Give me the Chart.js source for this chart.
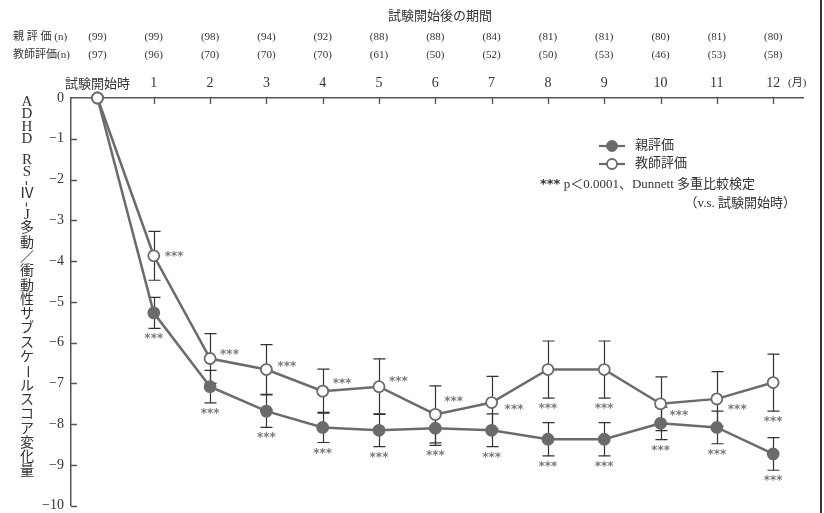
<!DOCTYPE html>
<html>
<head>
<meta charset="utf-8">
<script src="https://cdn.jsdelivr.net/npm/chart.js@4.4.1/dist/chart.umd.min.js"></script>
<style>
  html, body { margin: 0; padding: 0; background: #fff; }
  canvas { display: block; }
</style>
</head>
<body>
<canvas id="chart" width="824" height="513"></canvas>
<script>
// Months since the start of the trial (0 = baseline)
const months = [0, 1, 2, 3, 4, 5, 6, 7, 8, 9, 10, 11, 12];
const yTicks = [0, -1, -2, -3, -4, -5, -6, -7, -8, -9, -10];

// Mean change from baseline, ADHD RS-IV-J hyperactivity/impulsivity subscale
const parentScore  = [0, -5.27, -7.08, -7.68, -8.08, -8.15, -8.10, -8.15, -8.37, -8.37, -7.98, -8.08, -8.73];
const teacherScore = [0, -3.87, -6.39, -6.66, -7.19, -7.08, -7.76, -7.47, -6.66, -6.66, -7.50, -7.38, -6.98];

// Error bar half-widths
const parentErr  = [0, 0.38, 0.40, 0.40, 0.37, 0.40, 0.42, 0.40, 0.41, 0.41, 0.40, 0.40, 0.40];
const teacherErr = [0, 0.60, 0.61, 0.61, 0.54, 0.68, 0.70, 0.64, 0.70, 0.70, 0.66, 0.67, 0.70];

// Number of subjects at each visit
const parentN  = [99, 99, 98, 94, 92, 88, 88, 84, 81, 81, 80, 81, 80];
const teacherN = [97, 96, 70, 70, 70, 61, 50, 52, 50, 53, 46, 53, 58];

// p<0.0001 vs baseline (Dunnett)
const parentSig  = [false, true, true, true, true, true, true, true, true, true, true, true, true];
const teacherSig = [false, true, true, true, true, true, true, true, true, true, true, true, true];

const SERIF = '"Liberation Serif", "Noto Sans CJK JP", serif';
const INK = '#333';
const LINE = '#6b6b6b';
const STAR = '#7a7a7a';

// Where the "***" of each teacher point sits: under the bar, or beside the marker
const teacherStarSpot = [null,
  {dx: 11, dy: -2}, {dx: 10, dy: -7}, {dx: 11, dy: -6}, {dx: 10, dy: -10}, {dx: 10, dy: -8},
  {dx: 9, dy: -15}, {dx: 13, dy: 4}, 'below', 'below', {dx: 9, dy: 9}, {dx: 11, dy: 8}, 'below'];

const toPoints = vals => months.map((m, i) => ({x: m, y: vals[i]}));

function drawStars(ctx, x, yCenter, align) {
  ctx.save();
  ctx.font = 'bold 12px "DejaVu Sans", sans-serif';
  ctx.fillStyle = STAR;
  ctx.textAlign = align;
  ctx.textBaseline = 'alphabetic';
  const m = ctx.measureText('***');
  const off = (m.actualBoundingBoxAscent - m.actualBoundingBoxDescent) / 2;
  ctx.fillText('***', x, yCenter + off);
  ctx.restore();
}

// keep the plot area exactly where the layout padding puts it
function noEdgePadding(s) {
  s.paddingTop = 0; s.paddingBottom = 0; s.paddingLeft = 0; s.paddingRight = 0;
}

const errorBars = {
  id: 'errorBars',
  beforeDatasetsDraw(chart) {
    const {ctx, scales: {x, y}} = chart;
    ctx.save();
    ctx.strokeStyle = '#333';
    ctx.lineWidth = 1.2;
    [[parentScore, parentErr], [teacherScore, teacherErr]].forEach(([vals, errs]) => {
      vals.forEach((v, i) => {
        const e = errs[i];
        if (!e) return;
        const px = Math.round(x.getPixelForValue(months[i])) + 0.5;
        const top = y.getPixelForValue(v + e);
        const bot = y.getPixelForValue(v - e);
        ctx.beginPath();
        ctx.moveTo(px, top); ctx.lineTo(px, bot);
        ctx.moveTo(px - 6, top); ctx.lineTo(px + 6, top);
        ctx.moveTo(px - 6, bot); ctx.lineTo(px + 6, bot);
        ctx.stroke();
      });
    });
    // inward tick marks on both axes
    ctx.strokeStyle = '#555';
    ctx.lineWidth = 1.3;
    ctx.beginPath();
    months.forEach(m => {
      if (m === 0) return;
      const px = Math.round(x.getPixelForValue(m)) + 0.5;
      ctx.moveTo(px, chart.chartArea.top);
      ctx.lineTo(px, chart.chartArea.top + 6);
    });
    yTicks.forEach(t => {
      if (t === 0) return;
      const py = Math.round(y.getPixelForValue(t)) + 0.5;
      ctx.moveTo(chart.chartArea.left, py);
      ctx.lineTo(chart.chartArea.left + 6, py);
    });
    ctx.stroke();
    ctx.restore();
  },
  afterDatasetsDraw(chart) {
    const {ctx, scales: {x, y}} = chart;
    parentScore.forEach((v, i) => {
      if (!parentSig[i]) return;
      drawStars(ctx, x.getPixelForValue(months[i]), y.getPixelForValue(v - parentErr[i]) + 8, 'center');
    });
    teacherScore.forEach((v, i) => {
      if (!teacherSig[i]) return;
      const spot = teacherStarSpot[i];
      const px = x.getPixelForValue(months[i]);
      if (spot === 'below') {
        drawStars(ctx, px, y.getPixelForValue(v - teacherErr[i]) + 7.5, 'center');
      } else {
        drawStars(ctx, px + spot.dx, y.getPixelForValue(v) + spot.dy, 'left');
      }
    });
  }
};

const decorations = {
  id: 'decorations',
  afterDraw(chart) {
    const {ctx, scales: {x}} = chart;
    ctx.save();
    ctx.fillStyle = INK;
    ctx.textBaseline = 'middle';

    // header: period title and subject counts
    ctx.font = '13px ' + SERIF;
    ctx.textAlign = 'center';
    ctx.fillText('試験開始後の期間', 440, 17);

    ctx.font = '11px ' + SERIF;
    ctx.textAlign = 'left';
    ctx.fillText('親 評 価 (n)', 13, 37);
    ctx.fillText('教師評価(n)', 13, 55);
    ctx.textAlign = 'center';
    months.forEach((m, i) => {
      const px = x.getPixelForValue(m);
      ctx.fillText('(' + parentN[i] + ')', px, 37);
      ctx.fillText('(' + teacherN[i] + ')', px, 55);
    });
    ctx.fillText('(月)', x.getPixelForValue(12) + 24, 83);

    // vertical axis title, one upright character at a time
    const title = 'ADHD RS-Ⅳ-J多動／衝動性サブスケールスコア変化量';
    let cy = 95.5;
    for (const ch of title) {
      const latin = /[A-Z]/.test(ch) || ch === 'Ⅳ';
      const adv = ch === ' ' ? 8 : ch === '-' ? 9 : latin ? 12.5 : 14.3;
      ctx.save();
      ctx.translate(27, cy + adv / 2);
      if (ch === '-' || ch === 'ー') ctx.rotate(Math.PI / 2);
      ctx.font = (latin || ch === '-') ? '15px ' + SERIF : '14px ' + SERIF;
      ctx.textAlign = 'center';
      ctx.fillText(ch, 0, 0);
      ctx.restore();
      cy += adv;
    }

    // legend
    const legendRows = [
      {label: '親評価', fill: LINE, y: 146},
      {label: '教師評価', fill: '#fff', y: 164}
    ];
    legendRows.forEach(r => {
      ctx.strokeStyle = LINE;
      ctx.lineWidth = 2.2;
      ctx.beginPath();
      ctx.moveTo(599, r.y); ctx.lineTo(625, r.y);
      ctx.stroke();
      ctx.beginPath();
      ctx.arc(612, r.y, 5, 0, Math.PI * 2);
      ctx.fillStyle = r.fill;
      ctx.fill();
      ctx.lineWidth = 1.8;
      ctx.stroke();
      ctx.fillStyle = INK;
      ctx.font = '13px ' + SERIF;
      ctx.textAlign = 'left';
      ctx.fillText(r.label, 635, r.y);
    });

    // significance note
    ctx.font = 'bold 13px "DejaVu Sans", sans-serif';
    ctx.textAlign = 'left';
    ctx.fillText('***', 540, 185);
    const w = ctx.measureText('***').width;
    ctx.font = '13px ' + SERIF;
    ctx.fillText(' p＜0.0001、Dunnett 多重比較検定', 540 + w, 185);
    ctx.textAlign = 'right';
    ctx.fillText('（v.s. 試験開始時）', 796, 204);

    // right frame edge
    ctx.strokeStyle = '#333';
    ctx.lineWidth = 2;
    ctx.beginPath();
    ctx.moveTo(821, 0); ctx.lineTo(821, 513);
    ctx.stroke();
    ctx.restore();
  }
};

new Chart(document.getElementById('chart'), {
  type: 'line',
  data: {
    datasets: [
      {
        label: '教師評価',
        data: toPoints(teacherScore),
        borderColor: LINE,
        borderWidth: 2.5,
        pointRadius: 5.5,
        pointBorderWidth: 1.8,
        pointBackgroundColor: '#fff',
        pointBorderColor: LINE,
        clip: false,
        order: 0
      },
      {
        label: '親評価',
        data: toPoints(parentScore),
        borderColor: LINE,
        borderWidth: 2.5,
        pointRadius: 5.5,
        pointBorderWidth: 1.8,
        pointBackgroundColor: LINE,
        pointBorderColor: LINE,
        clip: false,
        order: 1
      }
    ]
  },
  options: {
    responsive: false,
    devicePixelRatio: 1,
    animation: false,
    layout: { padding: { left: 0, top: 0, right: 21, bottom: 5 } },
    plugins: { legend: { display: false }, tooltip: { enabled: false } },
    scales: {
      x: {
        type: 'linear',
        position: 'top',
        min: -0.47,
        max: 12.53,
        afterBuildTicks: s => { s.ticks = months.map(v => ({value: v})); },
        afterFit: s => { s.height = 98; noEdgePadding(s); },
        grid: { drawOnChartArea: false, drawTicks: false },
        border: { color: '#555', width: 1.5 },
        ticks: {
          padding: 6,
          color: INK,
          autoSkip: false,
          maxRotation: 0,
          font: c => ({ family: SERIF, size: c.index === 0 ? 13 : 14 }),
          callback: v => v === 0 ? '試験開始時' : String(v)
        }
      },
      y: {
        min: -10,
        max: 0,
        afterBuildTicks: s => { s.ticks = yTicks.map(v => ({value: v})); },
        afterFit: s => { s.width = 71; noEdgePadding(s); },
        grid: { drawOnChartArea: false, drawTicks: false },
        border: { color: '#555', width: 1.5 },
        ticks: {
          padding: 7,
          color: INK,
          font: { family: SERIF, size: 14 },
          callback: v => v === 0 ? '0' : '−' + Math.abs(v)
        }
      }
    }
  },
  plugins: [errorBars, decorations]
});
</script>
</body>
</html>
